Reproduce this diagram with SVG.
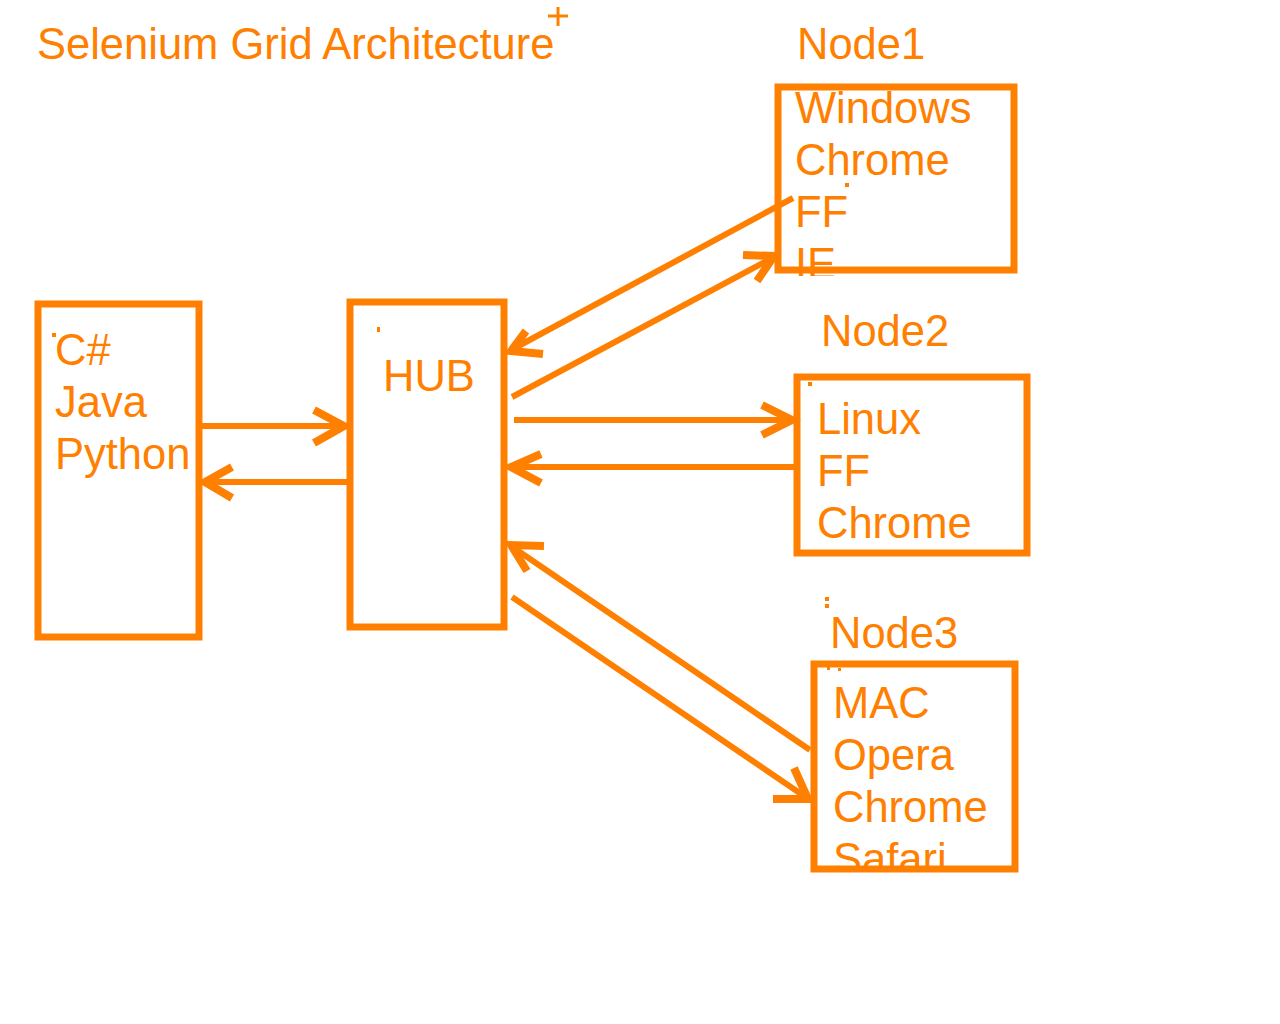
<svg xmlns="http://www.w3.org/2000/svg" width="1280" height="1024" viewBox="0 0 1280 1024">
<style>
.t{font-family:"Liberation Sans",Arial,sans-serif;font-size:43.5px;fill:#ff8000}
.box{fill:none;stroke:#ff8000;stroke-width:7}
.ln{fill:none;stroke:#ff8000;stroke-width:6}
.hd{fill:#ff8000;fill-opacity:0;stroke:#ff8000;stroke-width:8;stroke-linejoin:miter;stroke-miterlimit:10}
.dot{fill:#ff8000}
</style>
<defs>
<clipPath id="c1"><rect x="770" y="80" width="260" height="196"/></clipPath>
<clipPath id="c3"><rect x="805" y="655" width="220" height="216"/></clipPath>
</defs>
<rect width="1280" height="1024" fill="#ffffff"/>
<g id="title">
<text class="t" x="37" y="59">Selenium Grid Architecture</text>
<line x1="548" y1="16" x2="568" y2="16" stroke="#ff8000" stroke-width="3"/>
<line x1="558" y1="7" x2="558" y2="26" stroke="#ff8000" stroke-width="3"/>
</g>
<g id="node-client">
<rect class="box" x="38" y="304" width="161" height="333"/>
<text class="t" x="55" y="365">C#</text>
<text class="t" x="55" y="417">Java</text>
<text class="t" x="55" y="469">Python</text>
<rect class="dot" x="52" y="333" width="4" height="4"/>
</g>
<g id="node-hub">
<rect class="box" x="350" y="302" width="154" height="325"/>
<text class="t" x="383" y="391">HUB</text>
<rect class="dot" x="377" y="327" width="3" height="5"/>
</g>
<g id="node1">
<text class="t" x="797" y="59">Node1</text>
<rect class="box" x="778" y="87" width="236" height="183"/>
<g clip-path="url(#c1)">
<text class="t" x="795" y="123">Windows</text>
<text class="t" x="795" y="175">Chrome</text>
<text class="t" x="795" y="227">FF</text>
<text class="t" x="795" y="279">IE</text>
</g>
<rect class="dot" x="845" y="183" width="4" height="4"/>
</g>
<g id="node2">
<text class="t" x="821" y="346">Node2</text>
<rect class="box" x="797" y="377" width="230" height="176"/>
<text class="t" x="817" y="434">Linux</text>
<text class="t" x="817" y="486">FF</text>
<text class="t" x="817" y="538">Chrome</text>
<rect class="dot" x="808" y="382" width="4" height="4"/>
</g>
<g id="node3">
<rect class="dot" x="825" y="597" width="4" height="4"/>
<rect class="dot" x="825" y="604" width="4" height="4"/>
<text class="t" x="830" y="648">Node3</text>
<rect class="box" x="814" y="664" width="201" height="205"/>
<g clip-path="url(#c3)">
<text class="t" x="833" y="718">MAC</text>
<text class="t" x="833" y="770">Opera</text>
<text class="t" x="833" y="822">Chrome</text>
<text class="t" x="833" y="874">Safari</text>
</g>
<rect class="dot" x="827" y="667" width="3" height="3"/>
<rect class="dot" x="838" y="668" width="3" height="3"/>
</g>
<g id="connectors">
<line class="ln" x1="202" y1="426" x2="344" y2="426"/>
<polyline class="hd" points="314,410 344,426 314,443"/>
<line class="ln" x1="347" y1="482" x2="205" y2="482"/>
<polyline class="hd" points="232,467 205,482 232,498"/>
<line class="ln" x1="793" y1="198" x2="511" y2="350"/>
<polyline class="hd" points="526,331 511,351 543,354"/>
<line class="ln" x1="512" y1="397" x2="774" y2="257"/>
<polyline class="hd" points="743,255 774,256 757,281"/>
<line class="ln" x1="514" y1="420" x2="792" y2="420"/>
<polyline class="hd" points="762,405 792,420 762,435"/>
<line class="ln" x1="796" y1="467" x2="511" y2="467"/>
<polyline class="hd" points="541,454 511,467 541,483"/>
<line class="ln" x1="810" y1="750" x2="511" y2="546"/>
<polyline class="hd" points="544,546 511,545 527,571"/>
<line class="ln" x1="512" y1="597" x2="807" y2="798"/>
<polyline class="hd" points="773,799 808,799 794,768"/>
</g>
</svg>
